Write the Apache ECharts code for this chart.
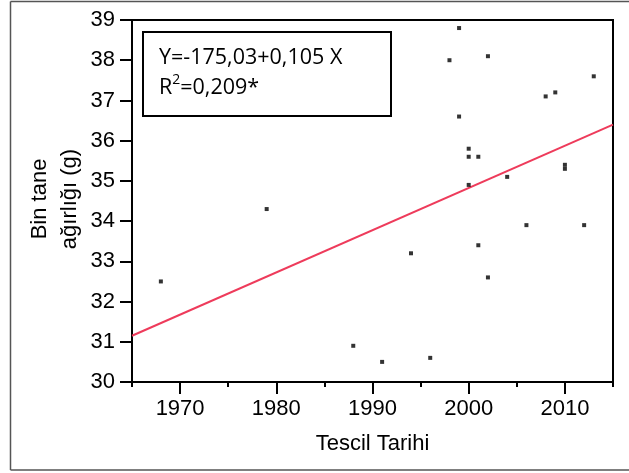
<!DOCTYPE html>
<html>
<head>
<meta charset="utf-8">
<script src="https://cdn.jsdelivr.net/npm/echarts@6/dist/echarts.min.js"></script>
<style>
html,body{margin:0;padding:0;background:#fff;}
#chart{width:629px;height:473px;}
</style>
</head>
<body>
<div id="chart"></div>
<script>
// tescil yili ve bin tane agirligi (g)
var years=[1968,1979,1988,1991,1994,1996,1998,1999,1999,2000,2000,2000,2001,2001,2002,2002,2004,2006,2008,2009,2010,2010,2012,2013];
var weights=[32.5,34.3,30.9,30.5,33.2,30.6,38.0,38.8,36.6,35.8,35.6,34.9,35.6,33.4,38.1,32.6,35.1,33.9,37.1,37.2,35.4,35.3,33.9,37.6];
// regresyon dogrusu uclari
var fitX=[1965,2015];
var fitY=[31.15,36.4];
var xLabels=[1970,1980,1990,2000,2010];
var xMinorTicks=[1965,1975,1985,1995,2005,2015];
var eqText='Y=-175,03+0,105 X';

var chart=echarts.init(document.getElementById('chart'));
var pts=[];
for(var i=0;i<years.length;i++){
	pts.push([years[i],weights[i]]);
}
var line=[];
for(var j=0;j<fitX.length;j++){
	line.push([fitX[j],fitY[j]]);
}
var font='"Liberation Sans", Arial, sans-serif';
var boxFont='"Open Sans", sans-serif';
var frameStyle={stroke:'#555',lineWidth:1.5};
var option={
	backgroundColor:'#fff',
	animation:false,
	grid:{
		left:132,right:16,top:20,bottom:91,
		show:true,borderColor:'#000',borderWidth:2
	},
	xAxis:[
		{
			type:'value',min:1965,max:2015,
			splitLine:{show:false},
			axisLine:{lineStyle:{color:'#000',width:2}},
			axisTick:{length:12,customValues:xLabels,lineStyle:{color:'#000',width:2}},
			axisLabel:{customValues:xLabels,color:'#000',fontSize:22,fontFamily:font,margin:16,
				formatter:function(v){return String(v);}},
			name:'Tescil Tarihi',nameLocation:'middle',nameGap:51,
			nameTextStyle:{color:'#000',fontSize:22,fontFamily:font}
		},
		{
			type:'value',min:1965,max:2015,position:'bottom',
			splitLine:{show:false},
			axisLine:{show:false},
			axisTick:{length:5,customValues:xMinorTicks,lineStyle:{color:'#000',width:2}},
			axisLabel:{show:false}
		}
	],
	yAxis:{
		type:'value',min:30,max:39,interval:1,
		splitLine:{show:false},
		axisLine:{show:true,lineStyle:{color:'#000',width:2}},
		axisTick:{show:true,length:12,lineStyle:{color:'#000',width:2}},
		axisLabel:{color:'#000',fontSize:22,fontFamily:font,margin:17}
	},
	graphic:[
		// dis cerceve (sag kenari yok)
		{type:'line',silent:true,shape:{x1:10.5,y1:1.5,x2:629,y2:1.5},style:frameStyle},
		{type:'line',silent:true,shape:{x1:10.5,y1:1.5,x2:10.5,y2:470},style:frameStyle},
		{type:'line',silent:true,shape:{x1:10.5,y1:470,x2:629,y2:470},style:frameStyle},
		{
			type:'text',x:55,y:199,rotation:Math.PI/2,silent:true,
			style:{text:'Bin tane\nağırlığı (g)',fill:'#000',font:'22px '+font,
				align:'center',verticalAlign:'middle',lineHeight:30}
		},
		{
			type:'rect',silent:true,z:10,
			shape:{x:143,y:32,width:248,height:84},
			style:{fill:'#fff',stroke:'#000',lineWidth:2}
		},
		{
			type:'text',x:159,y:58,silent:true,z:11,
			style:{text:eqText,fill:'#000',font:'21.5px '+boxFont,verticalAlign:'middle'}
		},
		{
			type:'text',x:159,y:86,silent:true,z:11,
			style:{
				text:'{a|R}{s|2}{a|=0,209*}',
				verticalAlign:'middle',
				rich:{
					a:{fontSize:21.5,fontFamily:boxFont,color:'#000',lineHeight:26,verticalAlign:'bottom'},
					s:{fontSize:14,fontFamily:boxFont,color:'#000',lineHeight:26,verticalAlign:'top',padding:[0,0,10,0]}
				}
			}
		}
	],
	series:[
		{
			type:'line',
			data:line,
			symbol:'none',
			lineStyle:{color:'#ee3b5b',width:2},
			z:2
		},
		{
			type:'scatter',
			data:pts,
			symbol:'rect',
			symbolSize:4,
			itemStyle:{color:'#000'},
			z:3
		}
	]
};
chart.setOption(option);
</script>
</body>
</html>
